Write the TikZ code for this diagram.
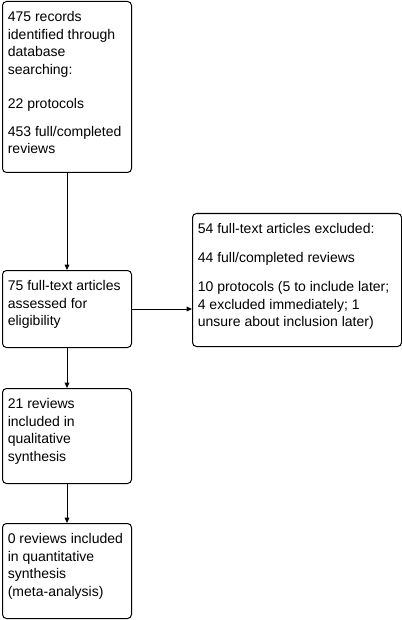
\documentclass[tikz,border=0pt]{standalone}
\usepackage{fontspec}
\setmainfont{Liberation Sans}
\usetikzlibrary{arrows.meta}
\newcommand{\flowtext}[3]{\parbox[c][#2][t]{#1}{\begin{tabular}[t]{@{}l@{}}\rule{0pt}{15.2pt}#3\end{tabular}}}

\begin{document}
\begin{tikzpicture}[x=0.75pt,y=-0.75pt,
    flowbox/.style={draw, line width=0.75pt, rounded corners=3pt, anchor=north west,
      inner xsep=4pt, inner ysep=0pt, font=\fontsize{10.5}{13.1}\selectfont},
    flowarrow/.style={-{Triangle[length=4pt,width=3.5pt]}, line width=0.75pt}]
                \useasboundingbox (0,0) rectangle (402,620);

                % Identification
                \node[flowbox] (records) at (2,1) {\flowtext{88.75pt}{128.25pt}{475 records\\ identified through\\ database\\ searching:\\[12.5pt] 22 protocols\\[7.9pt] 453 full/completed\\ reviews}};

                % Eligibility
                \node[flowbox] (assessed) at (2,270) {\flowtext{88.75pt}{57.75pt}{75 full-text articles\\ assessed for\\ eligibility}};
                \node[flowbox] (excluded) at (192,213) {\flowtext{148.75pt}{99.75pt}{54 full-text articles excluded:\\[8.6pt] 44 full/completed reviews\\[8.6pt] 10 protocols (5 to include later;\\ 4 excluded immediately; 1\\ unsure about inclusion later)}};

                % Included
                \node[flowbox] (qualitative) at (2,388) {\flowtext{88.75pt}{71.25pt}{21 reviews\\ included in\\ qualitative\\ synthesis}};
                \node[flowbox] (quantitative) at (2,523) {\flowtext{88.75pt}{71.25pt}{0 reviews included\\ in quantitative\\ synthesis\\ (meta-analysis)}};

                % Arrows
                \draw[flowarrow] (records) -- (assessed);
                \draw[flowarrow] (assessed.east) -- (assessed.east -| excluded.west);
                \draw[flowarrow] (assessed) -- (qualitative);
                \draw[flowarrow] (qualitative) -- (quantitative);
            \end{tikzpicture}
\end{document}
